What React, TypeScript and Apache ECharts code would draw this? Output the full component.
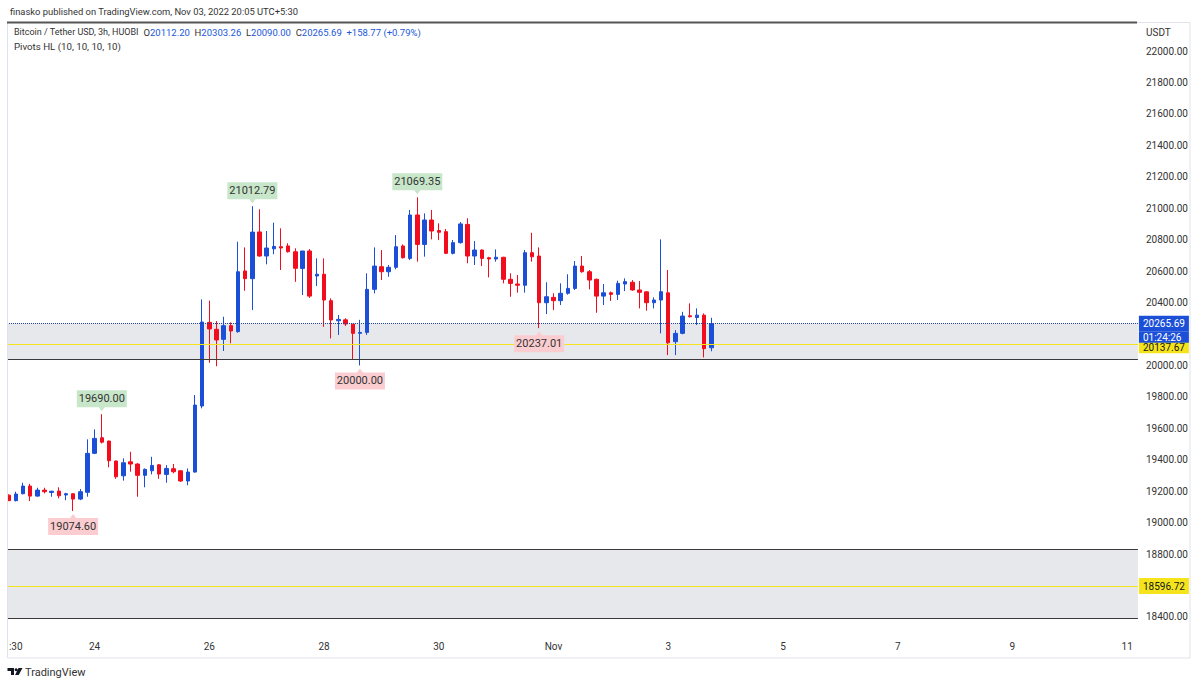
import React, { useEffect, useRef } from 'react';
import * as echarts from 'echarts';

// ---- data ----
const opens = [19175, 19140, 19184, 19233, 19169, 19207, 19192, 19201, 19176, 19184, 19150, 19193, 19441, 19540, 19519, 19392, 19298, 19387, 19373, 19301, 19330, 19368, 19307, 19343, 19330, 19265, 19322, 19742, 20274, 20230, 20166, 20253, 20215, 20601, 20552, 20849, 20696, 20742, 20755, 20760, 20723, 20617, 20728, 20569, 20580, 20412, 20284, 20290, 20262, 20204, 20210, 20484, 20628, 20596, 20624, 20760, 20681, 20957, 20770, 20925, 20858, 20851, 20713, 20781, 20897, 20696, 20734, 20685, 20677, 20688, 20548, 20518, 20510, 20717, 20696, 20399, 20433, 20412, 20459, 20490, 20632, 20596, 20548, 20441, 20462, 20452, 20518, 20529, 20480, 20468, 20399, 20416, 20462, 20151, 20204, 20316, 20305, 20320, 20112.2];
const highs = [19180, 19197, 19254, 19247, 19222, 19222, 19203, 19225, 19190, 19186, 19214, 19530, 19593, 19690, 19522, 19395, 19409, 19451, 19378, 19345, 19419, 19372, 19366, 19373, 19333, 19345, 19812, 20420, 20412, 20282, 20310, 20274, 20787, 20751, 21012.79, 20993, 20855, 20908, 20872, 20777, 20745, 20728, 20740, 20681, 20681, 20427, 20321, 20300, 20264, 20290, 20586, 20751, 20734, 20639, 20829, 20770, 20989, 21069.35, 20967, 20989, 20904, 20868, 20798, 20912, 20936, 20791, 20738, 20691, 20738, 20691, 20586, 20575, 20734, 20844, 20751, 20529, 20459, 20522, 20580, 20664, 20696, 20607, 20552, 20518, 20470, 20539, 20554, 20543, 20537, 20472, 20433, 20802, 20607, 20225, 20341, 20395, 20363, 20331, 20303.26];
const lows = [19138, 19135, 19180, 19137, 19165, 19186, 19165, 19155, 19143, 19074.6, 19143, 19165, 19436, 19504, 19352, 19279, 19267, 19324, 19165, 19225, 19307, 19279, 19254, 19314, 19260, 19238, 19318, 19727, 20017, 19995, 20092, 20141, 20208, 20475, 20352, 20692, 20643, 20707, 20607, 20718, 20532, 20448, 20430, 20505, 20246, 20172, 20194, 20251, 20039, 20000, 20194, 20458, 20543, 20564, 20612, 20680, 20670, 20660, 20692, 20802, 20797, 20708, 20706, 20775, 20650, 20639, 20632, 20560, 20660, 20522, 20437, 20463, 20463, 20660, 20237.01, 20327, 20352, 20384, 20450, 20480, 20590, 20484, 20335, 20384, 20410, 20416, 20473, 20475, 20363, 20348, 20363, 20204, 20066, 20066, 20198, 20305, 20257, 20051, 20090];
const closes = [19140, 19182, 19233, 19169, 19207, 19197, 19200, 19171, 19184, 19150, 19197, 19441, 19536, 19512, 19394, 19292, 19381, 19373, 19301, 19339, 19364, 19309, 19345, 19324, 19265, 19322, 19748, 20276, 20232, 20162, 20253, 20219, 20596, 20552, 20848, 20696, 20747, 20757, 20747, 20723, 20618, 20728, 20441, 20580, 20416, 20289, 20293, 20264, 20204, 20210, 20484, 20632, 20596, 20624, 20755, 20685, 20957, 20770, 20925, 20855, 20847, 20713, 20781, 20900, 20696, 20734, 20681, 20677, 20688, 20548, 20522, 20510, 20717, 20691, 20399, 20437, 20412, 20459, 20490, 20632, 20596, 20543, 20441, 20462, 20452, 20522, 20533, 20480, 20465, 20399, 20416, 20469, 20144, 20204, 20314, 20310, 20320, 20106.92, 20265.69];

const pivotHighIdx = [13, 34, 57];
const pivotHighVal = [19690.0, 21012.79, 21069.35];
const pivotLowIdx = [9, 49, 74];
const pivotLowVal = [19074.6, 20000.0, 20237.01];

const zoneUpper = [20040.7, 20266];
const zoneLower = [18393, 18832];
const yellowLevels = [20137.67, 18596.72];
const lastPrice = 20265.69;
const countdown = '01:24:26';

const xTickIdx = [1, 12, 28, 44, 60, 76, 92, 108, 124, 140, 156];
const xTickText = [':30', '24', '26', '28', '30', 'Nov', '3', '5', '7', '9', '11'];

const SLOTS = 158;
const START_MS = Date.UTC(2022, 9, 22, 9, 0);
const pad = (n: number) => (n < 10 ? '0' + n : '' + n);
const categories = Array.from({ length: SLOTS }, (_, i) => {
  const d = new Date(START_MS + i * 3 * 3600 * 1000 + 5.5 * 3600 * 1000);
  return `${d.getUTCFullYear()}-${pad(d.getUTCMonth() + 1)}-${pad(d.getUTCDate())} ${pad(d.getUTCHours())}:${pad(d.getUTCMinutes())}`;
});

const UP = '#1c4fd8';
const DOWN = '#f20d1e';
const YELLOW = '#f5e31c';
const FONT = 'Roboto';

const TV_LOGO = 'M0 0 H6.5 V7 H3.5 V3 H0 Z M8.6 0.2 A1.5 1.5 0 1 0 8.61 0.2 Z M11 0 H15 L11.2 7 H7.6 Z';
echarts.graphic.registerShape('tvlogo', echarts.graphic.extendPath(TV_LOGO, {}));

function buildOption() {
  const n = closes.length;
  const chg = closes[n - 1] - closes[n - 2];
  const pct = (chg / closes[n - 2]) * 100;
  const sign = (v: number) => (v >= 0 ? '+' : '');
  const legendText =
    `{a|Bitcoin / Tether USD, 3h, HUOBI}  {b|O}{v|${opens[n - 1].toFixed(2)}}  {b|H}{v|${highs[n - 1].toFixed(2)}}  ` +
    `{b|L}{v|${lows[n - 1].toFixed(2)}}  {b|C}{v|${closes[n - 1].toFixed(2)}}  {v|${sign(chg)}${chg.toFixed(2)} (${sign(pct)}${pct.toFixed(2)}%)}`;

  const tagPrices = [lastPrice, ...yellowLevels];

  const highPath = 'path://M0,0 H50 V17 H28 L25,21 L22,17 H0 Z';
  const lowPath = 'path://M0,4 H22 L25,0 L28,4 H50 V21 H0 Z';

  const pivotPoints = [
    ...pivotHighIdx.map((idx, k) => ({
      coord: [categories[idx], pivotHighVal[k]],
      value: pivotHighVal[k],
      symbol: highPath,
      symbolSize: [50, 21],
      symbolOffset: [0, -13.5],
      itemStyle: { color: '#c8e6c9' },
      label: { offset: [0, -2] },
    })),
    ...pivotLowIdx.map((idx, k) => ({
      coord: [categories[idx], pivotLowVal[k]],
      value: pivotLowVal[k],
      symbol: lowPath,
      symbolSize: [50, 21],
      symbolOffset: [0, 13.5],
      itemStyle: { color: '#fbcdd0' },
      label: { offset: [0, 2] },
    })),
  ];

  const edgeLine = (v: number) => ({
    yAxis: v,
    lineStyle: { color: '#3a3a3a', width: 1, type: 'solid' },
    label: { show: false },
  });

  return {
    animation: false,
    backgroundColor: '#ffffff',
    textStyle: { fontFamily: FONT },
    grid: { left: 5, right: 62.1, top: 19.56, bottom: 37.56 },
    xAxis: {
      type: 'category',
      data: categories,
      boundaryGap: true,
      axisLine: { show: false },
      axisTick: { show: false },
      splitLine: { show: false },
      axisLabel: {
        margin: -7,
        color: '#333',
        fontSize: 10,
        fontFamily: FONT,
        interval: (index: number) => xTickIdx.includes(index),
        formatter: (_v: string, index: number) => {
          const k = xTickIdx.indexOf(index);
          return k >= 0 ? xTickText[k] : '';
        },
      },
    },
    yAxis: {
      type: 'value',
      position: 'right',
      min: 18200,
      max: 22200,
      interval: 200,
      axisLine: { show: false },
      axisTick: { show: false },
      splitLine: { show: false },
      axisLabel: {
        margin: 8,
        color: '#333',
        fontSize: 10,
        fontFamily: FONT,
        formatter: (v: number) => {
          if (v <= 18200 || v >= 22200) return '';
          if (tagPrices.some((t) => Math.abs(t - v) < 100)) return '';
          return v.toFixed(2);
        },
      },
    },
    series: [
      {
        type: 'candlestick',
        data: opens.map((o, i) => [o, closes[i], lows[i], highs[i]]),
        barWidth: 4,
        itemStyle: {
          color: UP,
          color0: DOWN,
          borderColor: UP,
          borderColor0: DOWN,
          borderWidth: 1,
        },
        markArea: {
          silent: true,
          itemStyle: { color: '#e7e8ec' },
          data: [
            [{ yAxis: zoneUpper[0] }, { yAxis: zoneUpper[1] }],
            [{ yAxis: zoneLower[0] }, { yAxis: zoneLower[1] }],
          ],
        },
        markLine: {
          silent: true,
          symbol: 'none',
          animation: false,
          data: [
            edgeLine(zoneUpper[0]),
            edgeLine(zoneLower[0]),
            edgeLine(zoneLower[1]),
            {
              yAxis: yellowLevels[1],
              lineStyle: { color: YELLOW, width: 1, type: 'solid' },
              label: {
                show: true,
                position: 'end',
                distance: 1,
                formatter: () => `{p|${yellowLevels[1].toFixed(2)}}`,
                rich: {
                  p: { backgroundColor: YELLOW, color: '#131722', fontSize: 10, fontFamily: FONT, width: 46, height: 16, lineHeight: 16, padding: [0, 0, 0, 4] },
                },
              },
            },
            {
              yAxis: yellowLevels[0],
              lineStyle: { color: YELLOW, width: 1, type: 'solid' },
              label: {
                show: true,
                position: 'end',
                distance: 1,
                formatter: () => `{s| }\n{p|${yellowLevels[0].toFixed(2)}}`,
                rich: {
                  s: { height: 8, lineHeight: 8, fontSize: 6 },
                  p: { backgroundColor: YELLOW, color: '#131722', fontSize: 10, fontFamily: FONT, width: 46, height: 11, lineHeight: 11, padding: [0, 0, 0, 4] },
                },
              },
            },
            {
              yAxis: lastPrice,
              lineStyle: { color: '#1c3f9e', width: 1, type: 'dotted' },
              label: {
                show: true,
                position: 'end',
                distance: 1,
                formatter: () => `{s| }\n{p|${lastPrice.toFixed(2)}}\n{t|${countdown}}`,
                rich: {
                  s: { height: 11, lineHeight: 11, fontSize: 6 },
                  p: { backgroundColor: UP, color: '#ffffff', fontSize: 10, fontFamily: FONT, width: 46, height: 16, lineHeight: 16, padding: [0, 0, 0, 4] },
                  t: { backgroundColor: UP, color: '#ffffff', fontSize: 10, fontFamily: FONT, width: 46, height: 11, lineHeight: 11, padding: [0, 0, 0, 4] },
                },
              },
            },
          ],
        },
        markPoint: {
          silent: true,
          animation: false,
          label: {
            show: true,
            position: 'inside',
            color: '#333',
            fontSize: 11,
            fontFamily: FONT,
            formatter: (p: any) => Number(p.value).toFixed(2),
          },
          data: pivotPoints,
        },
      },
    ],
    graphic: [
      { type: 'rect', z: 100, shape: { x: 0, y: 20, width: 7, height: 640 }, style: { fill: '#ffffff' } },
      { type: 'rect', z: 101, shape: { x: 7.5, y: 22.5, width: 1182.5, height: 635.5 }, style: { fill: 'none', stroke: '#e0e3eb', lineWidth: 1 } },
      { type: 'line', z: 102, shape: { x1: 7, y1: 22.5, x2: 1137, y2: 22.5 }, style: { stroke: '#555555', lineWidth: 2 } },
      {
        type: 'text', z: 102, x: 10, y: 11,
        style: { text: 'finasko published on TradingView.com, Nov 03, 2022 20:05 UTC+5:30', fill: '#333', fontSize: 9.4, fontFamily: FONT, verticalAlign: 'middle' },
      },
      {
        type: 'text', z: 102, x: 14, y: 32,
        style: {
          text: legendText, verticalAlign: 'middle', fontSize: 9.5, fontFamily: FONT,
          rich: {
            a: { fill: '#333', fontSize: 9, fontFamily: FONT },
            b: { fill: '#333', fontSize: 9.5, fontFamily: FONT },
            v: { fill: '#2157d9', fontSize: 9.5, fontFamily: FONT },
          },
        },
      },
      {
        type: 'text', z: 102, x: 14, y: 46,
        style: { text: 'Pivots HL (10, 10, 10, 10)', fill: '#333', fontSize: 9.7, fontFamily: FONT, verticalAlign: 'middle' },
      },
      {
        type: 'text', z: 102, x: 1146, y: 32,
        style: { text: 'USDT', fill: '#333', fontSize: 10, fontFamily: FONT, verticalAlign: 'middle' },
      },
      { type: 'tvlogo', z: 102, x: 7.5, y: 668, style: { fill: '#131722' } },
      {
        type: 'text', z: 102, x: 25, y: 672,
        style: { text: 'TradingView', fill: '#333', fontSize: 11, fontFamily: FONT, verticalAlign: 'middle' },
      },
    ],
  };
}

export default function App() {
  const ref = useRef<HTMLDivElement>(null);
  useEffect(() => {
    if (!ref.current) return;
    const chart = echarts.init(ref.current, null, { renderer: 'svg' });
    chart.setOption(buildOption() as any);
    return () => chart.dispose();
  }, []);
  return (
    <div
      ref={ref}
      style={{ position: 'absolute', left: 0, top: 0, width: 1200, height: 686, background: '#ffffff' }}
    />
  );
}
